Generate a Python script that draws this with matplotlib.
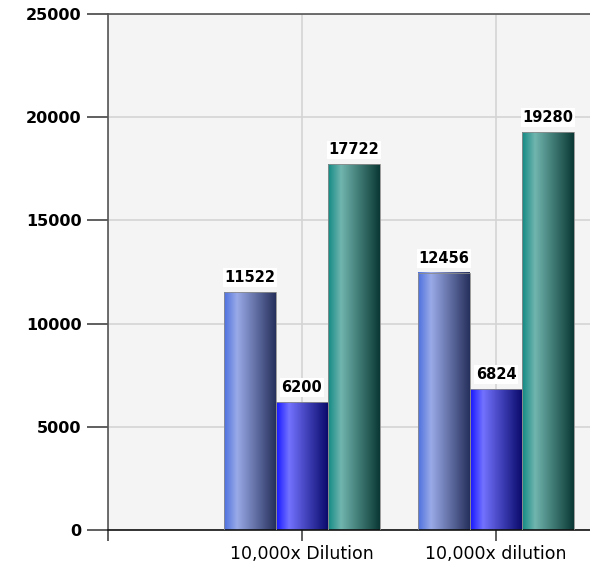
import numpy as np
import matplotlib
matplotlib.use("Agg")
import matplotlib.pyplot as plt
from matplotlib.colors import LinearSegmentedColormap

# data
categories = ["10,000x Dilution", "10,000x dilution"]
series_a = [11522, 12456]
series_b = [6200, 6824]
series_c = [17722, 19280]
yticks = [0, 5000, 10000, 15000, 20000, 25000]

# left edge -> highlight -> dark right edge
GRADS = [
    ["#4c70de", "#9aaae8", "#26305c"],
    ["#1414ff", "#7272ff", "#0a0a6c"],
    ["#128a84", "#70b5ae", "#0a3834"],
]

fig = plt.figure(figsize=(5.9, 5.66), dpi=100)
ax = fig.add_axes([108 / 590, 36 / 566, 1 - 108 / 590, (530 - 14) / 566])
ax.set_facecolor("#f4f4f4")

x = np.arange(1, len(categories) + 1)
w = 0.268
grad = np.linspace(0, 1, 256).reshape(1, -1)

for k, (vals, cols) in enumerate(zip([series_a, series_b, series_c], GRADS)):
    cmap = LinearSegmentedColormap.from_list(f"g{k}", [(0, cols[0]), (0.25, cols[1]), (1, cols[2])])
    bars = ax.bar(x + (k - 1) * w, vals, width=w, color="none", edgecolor="#8c8c8c",
                  linewidth=0.6, zorder=3)
    for b, v in zip(bars, vals):
        x0, bw, h = b.get_x(), b.get_width(), b.get_height()
        ax.imshow(grad, cmap=cmap, extent=[x0, x0 + bw, 0, h], aspect="auto",
                  interpolation="bilinear", zorder=2.5)
        ax.annotate(f"{v}", (x0 + bw / 2, h), xytext=(0, 5), textcoords="offset points",
                    ha="center", va="bottom", fontsize=10.5, fontweight="bold", zorder=4,
                    bbox=dict(boxstyle="square,pad=0.12", fc="white", ec="none"))

ax.set_xlim(0, 482 / 194)
ax.set_ylim(0, 25000)
ax.set_yticks(yticks)
ax.set_yticklabels([str(t) for t in yticks], fontsize=11.5, fontweight="bold")
ax.set_xticks([0] + list(x))
ax.set_xticklabels([""] + categories, fontsize=12.5)
ax.tick_params(axis="y", length=15, width=1.2, color="#444444", pad=4)
ax.tick_params(axis="x", length=8, width=1.2, color="#444444", pad=3)

ax.set_axisbelow(True)
ax.grid(True, color="#d4d4d4", linewidth=1.2, zorder=0)
ax.spines["right"].set_visible(False)
ax.spines["top"].set_color("#555555")
ax.spines["left"].set_color("#555555")
ax.spines["bottom"].set_color("#111111")
for s in ax.spines.values():
    s.set_linewidth(1.2)

fig.savefig("out.png", dpi=100)
